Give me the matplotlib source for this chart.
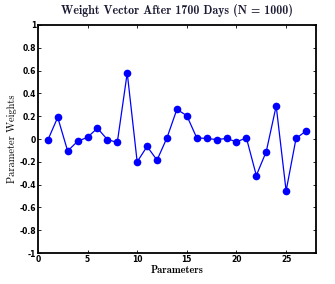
import matplotlib.pyplot as plt

params = list(range(1, 28))
weights = [-0.01, 0.19, -0.105, -0.02, 0.015, 0.095, -0.005, -0.03, 0.58,
           -0.20, -0.065, -0.185, 0.01, 0.26, 0.205, 0.01, 0.005, -0.005,
           0.005, -0.025, 0.01, -0.32, -0.11, 0.29, -0.455, 0.005, 0.07]

xticks = [0, 5, 10, 15, 20, 25]
yticks = [-1, -0.8, -0.6, -0.4, -0.2, 0, 0.2, 0.4, 0.6, 0.8, 1]
ytick_labels = ["-1", "-0.8", "-0.6", "-0.4", "-0.2", "0", "0.2", "0.4", "0.6", "0.8", "1"]

fig = plt.figure(figsize=(3.35, 2.84), dpi=100)
ax = fig.add_axes([0.113, 0.109, 0.83, 0.803])

ax.plot(params, weights, "-o", color="blue", linewidth=0.9, markersize=4.5)

ax.set_xlim(0, 28)
ax.set_ylim(-1, 1)
ax.set_xticks(xticks)
ax.set_yticks(yticks)
ax.set_yticklabels(ytick_labels)
ax.tick_params(direction="in", length=2.5, width=0.6, top=True, right=True,
               labelsize=5.5, pad=1.2)
for lbl in ax.get_xticklabels() + ax.get_yticklabels():
    lbl.set_fontweight("bold")
for s in ax.spines.values():
    s.set_linewidth(1.3)

ax.set_title("Weight Vector After 1700 Days (N = 1000)", family="cmb10",
             fontsize=8.6, color="#1a1a33", pad=8)
ax.set_xlabel("Parameters", family="cmb10", fontsize=7.5, labelpad=1)
ax.set_ylabel("Parameter Weights", family="cmr10", fontsize=7.5, labelpad=2)

fig.savefig("out.png", dpi=100)
